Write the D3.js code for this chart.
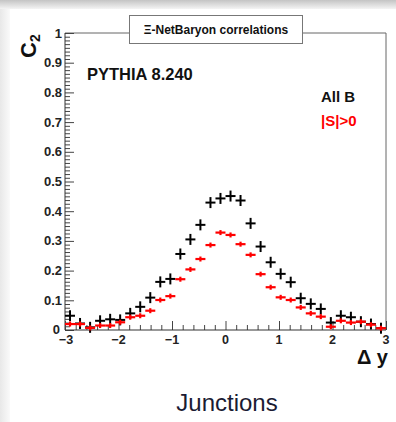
<!DOCTYPE html>
<html><head><meta charset="utf-8">
<script src="https://cdn.jsdelivr.net/npm/d3@7"></script>
<style>body{margin:0;background:#fff;}svg{display:block;font-family:"Liberation Sans",Arial,sans-serif;}</style>
</head><body>
<svg id="c" width="396" height="422"></svg>
<script>
const binCenters = [-2.906,-2.719,-2.531,-2.344,-2.156,-1.969,-1.781,-1.594,-1.406,-1.219,-1.031,-0.844,-0.656,-0.469,-0.281,-0.094,
  0.094,0.281,0.469,0.656,0.844,1.031,1.219,1.406,1.594,1.781,1.969,2.156,2.344,2.531,2.719,2.906];
const allB = [0.048,0.022,0.009,0.031,0.036,0.034,0.056,0.078,0.109,0.162,0.172,0.256,0.305,0.354,0.429,0.443,
  0.451,0.436,0.359,0.281,0.228,0.189,0.161,0.107,0.088,0.071,0.025,0.048,0.043,0.028,0.020,0.006];
const strange = [0.020,0.020,0.007,0.015,0.015,0.026,0.043,0.048,0.065,0.101,0.114,0.171,0.204,0.239,0.286,0.328,
  0.320,0.289,0.253,0.188,0.144,0.110,0.101,0.076,0.056,0.045,0.011,0.031,0.025,0.028,0.018,0.006];
const yTicks = [0,0.1,0.2,0.3,0.4,0.5,0.6,0.7,0.8,0.9,1];
const yTickLabels = ["0","0.1","0.2","0.3","0.4","0.5","0.6","0.7","0.8","0.9","1"];
const xTicks = [-3,-2,-1,0,1,2,3];
const xTickLabels = ["\u22123","\u22122","\u22121","0","1","2","3"];
const legendLabels = ["All B","|S|>0"];
const titleText = "\u039E-NetBaryon correlations";
const generatorText = "PYTHIA 8.240";
const captionText = "Junctions";

const svg = d3.select("#c");
const defs = svg.append("defs");
const gTop = defs.append("linearGradient").attr("id","gt").attr("x1",0).attr("y1",0).attr("x2",0).attr("y2",1);
gTop.append("stop").attr("offset","0%").attr("stop-color","#c4c4c4");
gTop.append("stop").attr("offset","100%").attr("stop-color","#f4f4f4");
const gLeft = defs.append("linearGradient").attr("id","gl").attr("x1",0).attr("y1",0).attr("x2",1).attr("y2",0);
gLeft.append("stop").attr("offset","0%").attr("stop-color","#e8e8e8");
gLeft.append("stop").attr("offset","100%").attr("stop-color","#fafafa");
const blur = defs.append("filter").attr("id","bl").attr("x","-20%").attr("y","-50%").attr("width","140%").attr("height","200%");
blur.append("feGaussianBlur").attr("stdDeviation",0.45);

svg.append("rect").attr("x",0).attr("y",0).attr("width",396).attr("height",422).attr("fill","#fff");
svg.append("rect").attr("x",0).attr("y",0).attr("width",10).attr("height",422).attr("fill","url(#gl)");
svg.append("rect").attr("x",0).attr("y",0).attr("width",396).attr("height",9).attr("fill","url(#gt)");

const L = 65, R = 386, T = 33, B = 330;
const x = d3.scaleLinear().domain([-3,3]).range([L,R]);
const y = d3.scaleLinear().domain([0,1]).range([B,T]);

// frame
svg.append("line").attr("x1",L).attr("x2",R).attr("y1",T).attr("y2",T).attr("stroke","#666").attr("stroke-width",1);
svg.append("line").attr("x1",R).attr("x2",R).attr("y1",T).attr("y2",B).attr("stroke","#666").attr("stroke-width",1);

// y axis
const yAxis = d3.axisRight(y).tickValues(yTicks).tickFormat(()=>"").tickSize(9);
const gy = svg.append("g").attr("transform",`translate(${L},0)`).call(yAxis);
gy.select(".domain").remove();
gy.selectAll("line").attr("stroke","#444");
const yMinor = d3.range(0,80).map(i=>i/80).filter(v=>Math.abs(v*10-Math.round(v*10))>1e-6);
svg.append("g").attr("transform",`translate(${L},0)`).call(d3.axisRight(y).tickValues(yMinor).tickFormat(()=>"").tickSize(5))
  .call(g=>{g.select(".domain").remove(); g.selectAll("line").attr("stroke","#444");});
svg.append("line").attr("x1",L).attr("x2",L).attr("y1",T).attr("y2",B).attr("stroke","#333");
svg.selectAll(".ylab").data(yTicks).enter().append("text").attr("class","ylab")
  .attr("x",d=>d===0?L-5:L-3).attr("y",d=>d===0?y(d)+3.5:y(d)+4.5).attr("text-anchor","end")
  .attr("font-size",13).attr("font-weight","bold").attr("fill","#222")
  .text((d,i)=>yTickLabels[i]);

// x axis
const xAxis = d3.axisTop(x).tickValues(xTicks).tickFormat(()=>"").tickSize(9);
svg.append("g").attr("transform",`translate(0,${B})`).call(xAxis)
  .call(g=>{g.select(".domain").remove(); g.selectAll("line").attr("stroke","#444");});
const xMinor = d3.range(-30,31).map(i=>i/10).filter(v=>Math.abs(v-Math.round(v))>1e-6 && Math.abs(v*5-Math.round(v*5))<1e-6);
svg.append("g").attr("transform",`translate(0,${B})`).call(d3.axisTop(x).tickValues(xMinor).tickFormat(()=>"").tickSize(5))
  .call(g=>{g.select(".domain").remove(); g.selectAll("line").attr("stroke","#444");});
svg.append("line").attr("x1",L).attr("x2",R).attr("y1",B).attr("y2",B).attr("stroke","#333");
svg.selectAll(".xlab").data(xTicks).enter().append("text").attr("class","xlab")
  .attr("x",d=>d===-3?x(d)+1:x(d)).attr("y",B+13.5).attr("text-anchor","middle")
  .attr("font-size",12.5).attr("font-weight","bold").attr("fill","#222")
  .text((d,i)=>xTickLabels[i]);

// axis titles
const cT = svg.append("text").attr("transform","translate(36,58) rotate(-90)")
  .attr("font-size",22).attr("font-weight","bold").attr("fill","#111");
cT.append("tspan").text("C");
cT.append("tspan").attr("font-size",14).attr("dy",4).text("2");
svg.append("text").attr("x",388).attr("y",364).attr("text-anchor","end")
  .attr("font-size",20).attr("font-weight","bold").attr("fill","#111").text("\u0394 y");

// data
const hw = (x(binCenters[1])-x(binCenters[0]))/2;
const gB = svg.append("g").attr("filter","url(#bl)");
binCenters.forEach((c,i)=>{
  gB.append("line").attr("x1",x(c)-hw).attr("x2",x(c)+hw).attr("y1",y(allB[i])).attr("y2",y(allB[i]))
    .attr("stroke","#000").attr("stroke-width",2);
  gB.append("line").attr("x1",x(c)).attr("x2",x(c)).attr("y1",y(allB[i])-5.5).attr("y2",y(allB[i])+5.5)
    .attr("stroke","#000").attr("stroke-width",2);
});
const gR = svg.append("g").attr("filter","url(#bl)");
binCenters.forEach((c,i)=>{
  gR.append("line").attr("x1",x(c)-hw).attr("x2",x(c)+hw).attr("y1",y(strange[i])).attr("y2",y(strange[i]))
    .attr("stroke","#ff0000").attr("stroke-width",2.2);
  gR.append("line").attr("x1",x(c)).attr("x2",x(c)).attr("y1",y(strange[i])-2.5).attr("y2",y(strange[i])+2.5)
    .attr("stroke","#ff0000").attr("stroke-width",2.2);
});

// title box
svg.append("rect").attr("x",129.5).attr("y",15.5).attr("width",173).attr("height",28)
  .attr("fill","#fff").attr("stroke","#777").attr("stroke-width",1);
svg.append("text").attr("x",216).attr("y",34).attr("text-anchor","middle")
  .attr("font-size",12).attr("font-weight","bold").attr("fill","#111").text(titleText);

// texts
svg.append("text").attr("x",87).attr("y",80).attr("font-size",16.5).attr("font-weight","bold").attr("fill","#111").text(generatorText);
svg.append("text").attr("x",321).attr("y",102).attr("font-size",15).attr("font-weight","bold").attr("fill","#111").text(legendLabels[0]);
svg.append("text").attr("x",321).attr("y",126).attr("font-size",15).attr("font-weight","bold").attr("fill","#ff0000").text(legendLabels[1]);

svg.append("text").attr("x",227).attr("y",411).attr("text-anchor","middle")
  .attr("font-size",24).attr("fill","#1b1b33").text(captionText);
</script>
</body></html>
